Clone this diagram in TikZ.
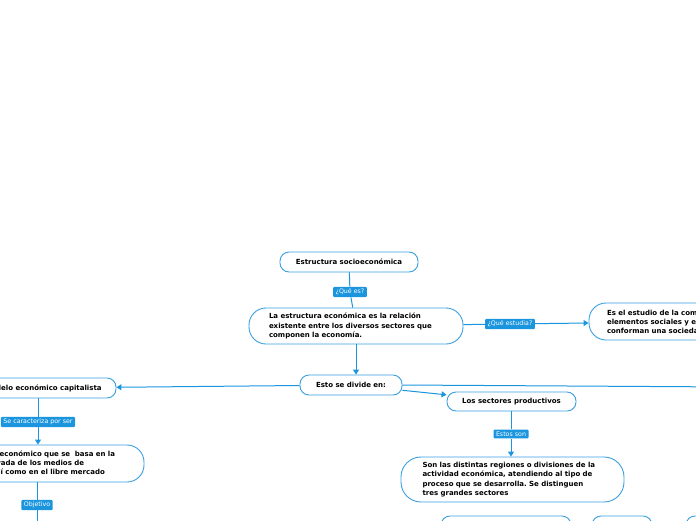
\documentclass[tikz,border=0pt]{standalone}
\usepackage{fontspec}
\setmainfont{DejaVu Sans}
\usetikzlibrary{arrows.meta}
\definecolor{mapblue}{HTML}{1B95DE}
\definecolor{edgeblue}{HTML}{3A9FE0}
\frenchspacing
\tikzset{
  idea/.style={draw=edgeblue, line width=0.9pt, fill=white, align=left,
    font=\fontsize{7}{9.2}\selectfont\bfseries},
  tag/.style={fill=mapblue, text=white, rounded corners=1pt, inner xsep=2.5pt,
    inner ysep=2pt, font=\fontsize{6.3}{7}\selectfont},
  link/.style={draw=mapblue, line width=1pt},
  arrow/.style={link, -{Triangle[width=6pt,length=5pt]}}
}
\begin{document}
\begin{tikzpicture}[x=1pt,y=-1pt]
    \useasboundingbox (0,0) rectangle (696,520);
    \clip (0,0) rectangle (696,520);
    % centre
    \node[idea, rounded corners=9pt, minimum width=138pt, minimum height=20pt, align=center]
        (top) at (349,262) {Estructura socioeconómica};
    \node[tag] (qes) at (350,292) {¿Qué es?};
    \node[idea, rounded corners=17pt, text width=174pt, inner xsep=20pt, minimum height=36pt]
        (relacion) at (356,326) {La estructura económica es la relación\\existente entre los diversos sectores que\\componen la economía.};
    \node[tag] (qestudia) at (510,324) {¿Qué estudia?};
    \node[idea, rounded corners=17pt, text width=194pt, inner xsep=18pt, minimum height=37pt]
        (estudio) at (704,321.5) {Es el estudio de la composición de los\\elementos sociales y económicos que\\conforman una sociedad.};
    \node[idea, rounded corners=9pt, minimum width=102pt, minimum height=20pt, align=center]
        (divide) at (351,385) {Esto se divide en:};
    % izquierda
    \node[idea, rounded corners=9pt, minimum width=146pt, minimum height=20pt, align=center]
        (capital) at (43,388) {Modelo económico capitalista};
    \node[tag] (caract) at (38,422) {Se caracteriza por ser};
    \node[idea, rounded corners=17pt, text width=181pt, inner xsep=20pt, minimum height=37pt]
        (basa) at (33.5,463.5) {Es un sistema económico que se\ \ basa en la\\propiedad privada de los medios de\\producción, así como en el libre mercado};
    \node[tag] (objetivo) at (37,505) {Objetivo};
    % derecha
    \node[idea, rounded corners=9pt, minimum width=129pt, minimum height=19pt, align=center]
        (sectores) at (511.5,401.5) {Los sectores productivos};
    \node[tag] (estos) at (511,434) {Estos son};
    \node[idea, rounded corners=20pt, text width=180pt, inner xsep=21.5pt, minimum height=45pt]
        (regiones) at (512.5,479.5) {Son las distintas regiones o divisiones de la\\actividad económica, atendiendo al tipo de\\proceso que se desarrolla. Se distinguen\\tres grandes sectores};
    \node[idea, rounded corners=9pt, minimum width=130pt, minimum height=30pt] (primario) at (506,531) {};
    \node[idea, rounded corners=9pt, minimum width=60pt, minimum height=30pt] (secundario) at (622,531) {};
    \node[idea, rounded corners=9pt, minimum width=68pt, minimum height=30pt] (terciario) at (720,531) {};
    \coordinate (fuera) at (900,388);
    \coordinate (abajo) at (37,560);
    % conexiones
    \draw[link] (top) -- (qes) -- (relacion);
    \draw[link] (relacion) -- (qestudia);
    \draw[arrow] (qestudia) -- (estudio);
    \draw[arrow] (relacion.south) -- (relacion.south |- divide.north);
    \draw[arrow] (divide) -- (capital);
    \draw[link] (divide.east) -- (fuera);
    \draw[arrow] (divide) -- (sectores);
    \draw[link] (sectores.south -| estos) -- (estos);
    \draw[arrow] (estos) -- (estos |- regiones.north);
    \draw[link] (caract |- capital.south) -- (caract);
    \draw[arrow] (caract) -- (caract |- basa.north);
    \draw[link] (objetivo |- basa.south) -- (objetivo) -- (abajo);
\end{tikzpicture}
\end{document}
